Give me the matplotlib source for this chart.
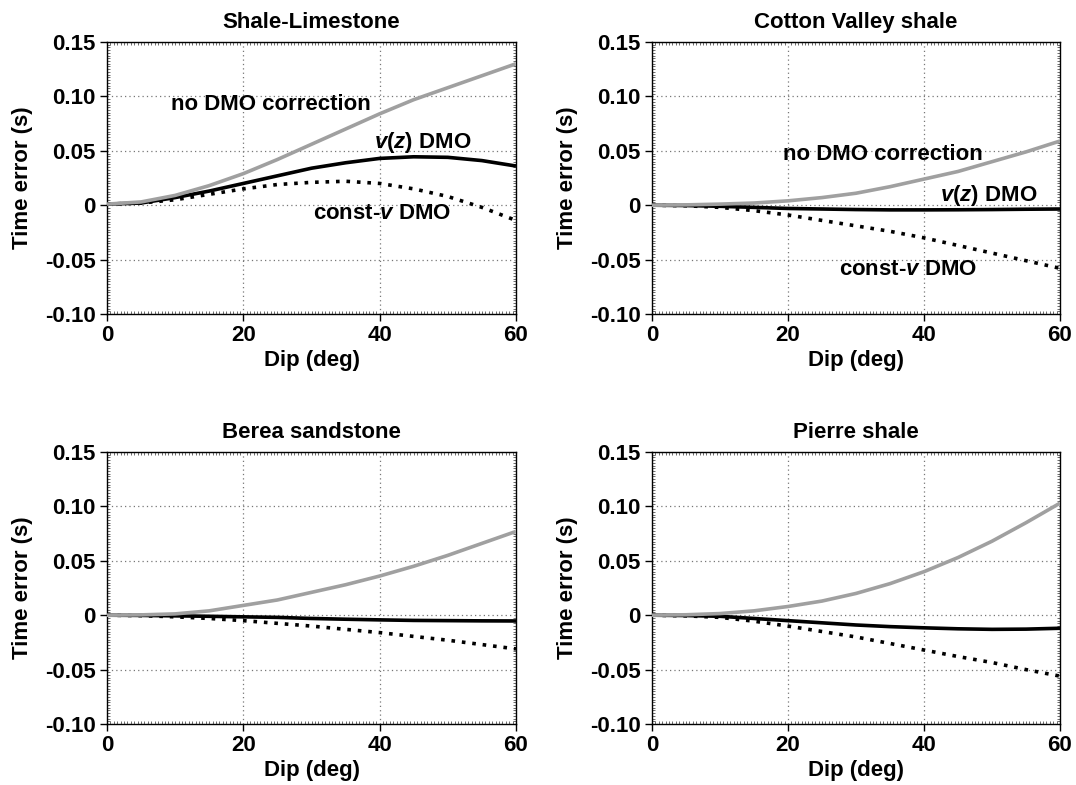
import matplotlib
matplotlib.use("Agg")
import matplotlib.pyplot as plt
from matplotlib.ticker import MultipleLocator, FixedLocator

plt.rcParams['font.family'] = ['Liberation Sans', 'DejaVu Sans']
plt.rcParams['font.weight'] = 'bold'
plt.rcParams['mathtext.fontset'] = 'custom'
plt.rcParams['mathtext.it'] = 'Liberation Sans:italic:bold'
plt.rcParams['mathtext.rm'] = 'Liberation Sans:bold'
plt.rcParams['axes.unicode_minus'] = False

dip = [0, 5, 10, 15, 20, 25, 30, 35, 40, 45, 50, 55, 60]

titles = ["Shale-Limestone", "Cotton Valley shale", "Berea sandstone", "Pierre shale"]

# no DMO correction (gray)
nodmo_shale_lime = [0.001, 0.003, 0.009, 0.018, 0.029, 0.042, 0.056, 0.070, 0.084, 0.097, 0.108, 0.119, 0.130]
nodmo_cotton = [0.0, 0.0003, 0.001, 0.002, 0.004, 0.007, 0.011, 0.017, 0.024, 0.031, 0.040, 0.049, 0.059]
nodmo_berea = [0.0, 0.0003, 0.0012, 0.004, 0.009, 0.014, 0.021, 0.028, 0.036, 0.045, 0.055, 0.066, 0.077]
nodmo_pierre = [0.0, 0.0004, 0.0015, 0.004, 0.008, 0.013, 0.020, 0.029, 0.040, 0.053, 0.068, 0.085, 0.103]

# v(z) DMO (black solid)
vz_shale_lime = [0.001, 0.002, 0.007, 0.013, 0.020, 0.027, 0.034, 0.039, 0.043, 0.0445, 0.044, 0.041, 0.036]
vz_cotton = [0.0, -0.0003, -0.001, -0.002, -0.003, -0.0035, -0.004, -0.0043, -0.0043, -0.0042, -0.004, -0.0037, -0.0035]
vz_berea = [0.0, -0.0002, -0.0006, -0.001, -0.0015, -0.002, -0.003, -0.0037, -0.0043, -0.0048, -0.005, -0.0052, -0.0053]
vz_pierre = [0.0, -0.0003, -0.001, -0.003, -0.005, -0.007, -0.009, -0.0105, -0.0116, -0.0125, -0.013, -0.0128, -0.012]

# const-v DMO (black dotted)
cv_shale_lime = [0.001, 0.002, 0.005, 0.010, 0.015, 0.019, 0.021, 0.022, 0.020, 0.015, 0.008, -0.002, -0.014]
cv_cotton = [0.0, -0.0005, -0.002, -0.005, -0.009, -0.014, -0.019, -0.024, -0.030, -0.037, -0.044, -0.051, -0.058]
cv_berea = [0.0, -0.0004, -0.0015, -0.003, -0.005, -0.0075, -0.010, -0.013, -0.016, -0.0195, -0.023, -0.027, -0.031]
cv_pierre = [0.0, -0.0006, -0.002, -0.0055, -0.010, -0.015, -0.020, -0.026, -0.032, -0.038, -0.0435, -0.050, -0.056]

nodmo = [nodmo_shale_lime, nodmo_cotton, nodmo_berea, nodmo_pierre]
vz = [vz_shale_lime, vz_cotton, vz_berea, vz_pierre]
cv = [cv_shale_lime, cv_cotton, cv_berea, cv_pierre]

yticks = [-0.10, -0.05, 0.0, 0.05, 0.10, 0.15]
ytick_labels = ["-0.10", "-0.05", "0", "0.05", "0.10", "0.15"]
xticks = [0, 20, 40, 60]
xtick_labels = ["0", "20", "40", "60"]

label_texts = ["no DMO correction", r"$v$($z$) DMO", r"const-$v$ DMO"]
# annotation positions (data coords, centre) for top two panels
ann_pos = [
    [(24.0, 0.093), (46.3, 0.058), (40.4, -0.008)],
    [(34.0, 0.0466), (49.5, 0.009), (37.6, -0.059)],
]

W, H = 1076, 785
fig = plt.figure(figsize=(W / 100, H / 100), dpi=100)
boxes = [
    (107, 42, 516, 314),
    (652, 42, 1060, 314),
    (107, 452, 516, 724),
    (652, 452, 1060, 724),
]

FS = 16
for i, (x0, y0, x1, y1) in enumerate(boxes):
    ax = fig.add_axes([x0 / W, 1 - y1 / H, (x1 - x0) / W, (y1 - y0) / H])
    ax.plot(dip, cv[i], color='black', lw=2.6, linestyle=(0, (1.0, 1.9)),
            dash_capstyle='butt', zorder=3)
    ax.plot(dip, vz[i], color='black', lw=2.6, solid_capstyle='butt', zorder=4)
    ax.plot(dip, nodmo[i], color='#a0a0a0', lw=2.6, solid_capstyle='butt', zorder=5)
    ax.set_xlim(0, 60)
    ax.set_ylim(-0.10, 0.15)
    ax.xaxis.set_major_locator(FixedLocator(xticks))
    ax.set_xticklabels(xtick_labels)
    ax.yaxis.set_major_locator(FixedLocator(yticks))
    ax.set_yticklabels(ytick_labels)
    ax.xaxis.set_minor_locator(MultipleLocator(0.5))
    ax.yaxis.set_minor_locator(MultipleLocator(0.0025))
    ax.tick_params(which='major', direction='out', length=5, width=1.0,
                   labelsize=FS, pad=3)
    ax.tick_params(which='minor', direction='in', length=2, width=0.6,
                   color='#555555', top=True, right=True)
    for lab in ax.get_xticklabels() + ax.get_yticklabels():
        lab.set_fontweight('bold')
    ax.grid(True, which='major', color='#777777', linestyle=(0, (1, 2.5)), lw=0.9)
    for s in ax.spines.values():
        s.set_linewidth(1.0)
    ax.set_title(titles[i], fontsize=FS, fontweight='bold', pad=10)
    ax.set_xlabel("Dip (deg)", fontsize=FS, fontweight='bold', labelpad=3)
    ax.set_ylabel("Time error (s)", fontsize=FS, fontweight='bold', labelpad=9)
    if i < 2:
        for txt, (xx, yy) in zip(label_texts, ann_pos[i]):
            ax.text(xx, yy, txt, fontsize=FS, fontweight='bold',
                    ha='center', va='center', zorder=6)

fig.savefig("out.png", dpi=100)
